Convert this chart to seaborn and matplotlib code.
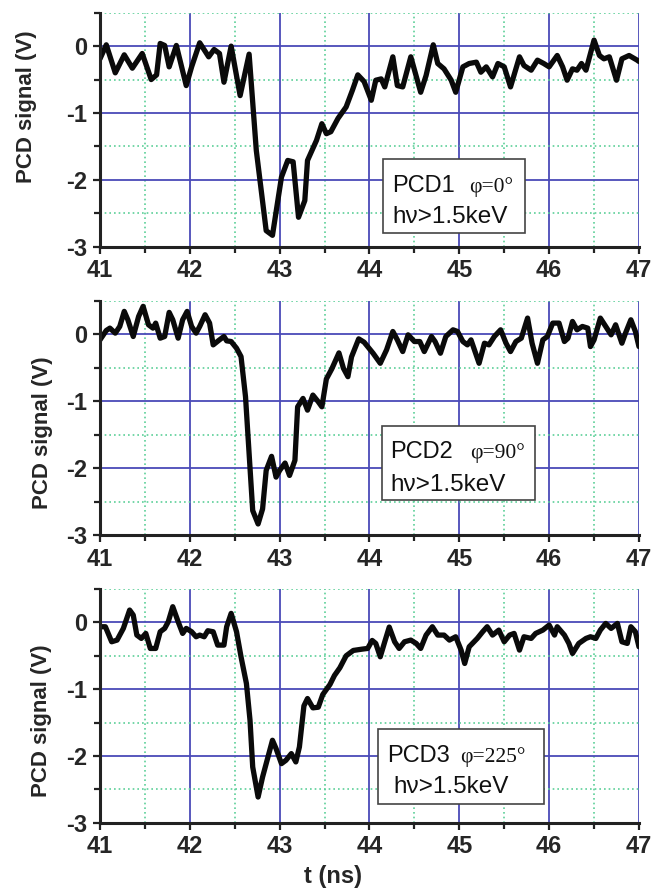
import matplotlib
matplotlib.use("Agg")
import matplotlib.pyplot as plt
import seaborn as sns
from matplotlib.ticker import MultipleLocator, FixedLocator
from matplotlib.patches import Rectangle

# ---------------- data ----------------
t1 = [41.00, 41.07, 41.17, 41.27, 41.36, 41.47, 41.57, 41.63, 41.67, 41.72, 41.77, 41.85,
      41.96, 42.02, 42.11, 42.21, 42.27, 42.33, 42.38, 42.46, 42.56, 42.66, 42.74, 42.85,
      42.92, 43.02, 43.09, 43.15, 43.21, 43.28, 43.31, 43.41, 43.47, 43.52, 43.57, 43.65,
      43.74, 43.81, 43.87, 43.94, 44.02, 44.07, 44.13, 44.17, 44.26, 44.31, 44.37, 44.46,
      44.57, 44.63, 44.71, 44.76, 44.83, 44.91, 44.96, 45.04, 45.11, 45.19, 45.24, 45.30,
      45.37, 45.43, 45.50, 45.57, 45.67, 45.72, 45.80, 45.87, 45.94, 46.00, 46.09, 46.15,
      46.20, 46.26, 46.31, 46.36, 46.41, 46.50, 46.56, 46.61, 46.67, 46.75, 46.81, 46.89,
      46.98, 47.00]
v1 = [-0.19, 0.02, -0.40, -0.13, -0.33, -0.11, -0.50, -0.43, 0.04, 0.01, -0.31, 0.01,
      -0.59, -0.31, 0.05, -0.16, -0.05, -0.11, -0.54, 0.00, -0.74, -0.12, -1.56, -2.76,
      -2.83, -1.96, -1.71, -1.73, -2.56, -2.31, -1.71, -1.41, -1.16, -1.31, -1.28, -1.08,
      -0.91, -0.66, -0.43, -0.53, -0.81, -0.51, -0.49, -0.61, -0.16, -0.59, -0.61, -0.16,
      -0.69, -0.44, 0.02, -0.26, -0.34, -0.51, -0.69, -0.31, -0.26, -0.24, -0.39, -0.31,
      -0.46, -0.26, -0.31, -0.61, -0.16, -0.29, -0.36, -0.21, -0.26, -0.31, -0.14, -0.31,
      -0.51, -0.34, -0.36, -0.26, -0.36, 0.09, -0.14, -0.19, -0.16, -0.51, -0.19, -0.14,
      -0.21, -0.23]

t2 = [41.00, 41.07, 41.11, 41.17, 41.22, 41.27, 41.31, 41.37, 41.43, 41.48, 41.54, 41.59,
      41.62, 41.67, 41.72, 41.77, 41.81, 41.87, 41.92, 41.97, 42.02, 42.07, 42.11, 42.17,
      42.22, 42.26, 42.33, 42.38, 42.41, 42.46, 42.52, 42.57, 42.62, 42.66, 42.70, 42.76,
      42.81, 42.85, 42.91, 42.96, 43.00, 43.06, 43.11, 43.17, 43.20, 43.26, 43.31, 43.37,
      43.43, 43.47, 43.52, 43.58, 43.66, 43.71, 43.76, 43.80, 43.88, 43.94, 44.04, 44.12,
      44.19, 44.26, 44.31, 44.37, 44.43, 44.50, 44.56, 44.61, 44.69, 44.73, 44.79, 44.85,
      44.93, 44.98, 45.04, 45.09, 45.13, 45.22, 45.28, 45.33, 45.39, 45.46, 45.52, 45.57,
      45.63, 45.69, 45.76, 45.81, 45.87, 45.93, 45.98, 46.04, 46.11, 46.17, 46.21, 46.26,
      46.31, 46.37, 46.43, 46.46, 46.50, 46.57, 46.63, 46.69, 46.74, 46.81, 46.85, 46.91,
      46.96, 47.00]
v2 = [-0.085, 0.055, 0.09, 0.015, 0.115, 0.34, 0.215, -0.035, 0.265, 0.415, 0.14, 0.09,
      0.165, -0.06, -0.035, 0.325, 0.215, -0.06, 0.215, 0.34, 0.115, 0.015, 0.115, 0.29,
      0.165, -0.16, -0.085, -0.035, -0.10, -0.11, -0.21, -0.335, -0.935, -1.785, -2.635, -2.835,
      -2.61, -2.035, -1.825, -2.135, -2.035, -1.925, -2.11, -1.885, -1.085, -0.96, -1.135, -0.91,
      -1.01, -1.085, -0.67, -0.52, -0.28, -0.51, -0.635, -0.34, -0.07, -0.12, -0.285, -0.435,
      -0.235, 0.04, -0.085, -0.26, -0.01, -0.11, -0.11, -0.26, -0.035, -0.11, -0.285, -0.035,
      0.065, 0.04, -0.11, -0.16, -0.085, -0.435, -0.135, -0.16, -0.035, 0.065, -0.135, -0.26,
      -0.11, -0.06, 0.24, -0.135, -0.435, -0.085, -0.035, 0.165, 0.165, -0.11, -0.06, 0.19,
      0.065, 0.115, 0.09, -0.185, -0.085, 0.24, 0.115, -0.01, 0.14, -0.135, 0.015, 0.215,
      0.04, -0.185]

t3 = [41.00, 41.06, 41.13, 41.19, 41.26, 41.33, 41.37, 41.41, 41.46, 41.51, 41.56, 41.62,
      41.67, 41.72, 41.76, 41.81, 41.87, 41.92, 41.96, 42.02, 42.07, 42.11, 42.16, 42.20,
      42.26, 42.31, 42.38, 42.41, 42.46, 42.52, 42.57, 42.63, 42.67, 42.70, 42.76, 42.81,
      42.87, 42.92, 42.96, 43.02, 43.07, 43.13, 43.18, 43.22, 43.27, 43.31, 43.37, 43.43,
      43.48, 43.56, 43.61, 43.67, 43.74, 43.82, 43.92, 43.98, 44.03, 44.07, 44.12, 44.17,
      44.22, 44.28, 44.33, 44.39, 44.46, 44.52, 44.57, 44.63, 44.70, 44.76, 44.83, 44.89,
      44.96, 45.02, 45.06, 45.11, 45.20, 45.26, 45.31, 45.37, 45.44, 45.50, 45.56, 45.61,
      45.67, 45.72, 45.80, 45.85, 45.93, 46.00, 46.06, 46.09, 46.17, 46.22, 46.26, 46.33,
      46.41, 46.46, 46.52, 46.57, 46.63, 46.69, 46.76, 46.81, 46.87, 46.91, 46.96, 47.00]
v3 = [-0.065, -0.065, -0.29, -0.265, -0.09, 0.185, 0.11, -0.19, -0.24, -0.165, -0.39, -0.39,
      -0.14, -0.09, 0.01, 0.235, 0.01, -0.165, -0.09, -0.14, -0.215, -0.19, -0.215, -0.125,
      -0.14, -0.34, -0.34, -0.065, 0.135, -0.14, -0.515, -0.915, -1.465, -2.165, -2.615, -2.315,
      -2.015, -1.765, -1.89, -2.115, -2.065, -1.965, -2.09, -1.865, -1.25, -1.14, -1.28, -1.27,
      -1.08, -0.93, -0.795, -0.68, -0.50, -0.42, -0.40, -0.39, -0.27, -0.315, -0.515, -0.29,
      -0.07, -0.29, -0.39, -0.29, -0.265, -0.315, -0.39, -0.19, -0.065, -0.19, -0.19, -0.265,
      -0.215, -0.415, -0.615, -0.365, -0.24, -0.14, -0.065, -0.19, -0.115, -0.29, -0.19, -0.165,
      -0.415, -0.215, -0.24, -0.165, -0.115, -0.04, -0.19, -0.065, -0.19, -0.315, -0.465, -0.315,
      -0.24, -0.215, -0.24, -0.115, -0.015, -0.09, -0.015, -0.29, -0.315, -0.065, -0.14, -0.365]

detectors = ["PCD1", "PCD2", "PCD3"]
angles = ["φ=0°", "φ=90°", "φ=225°"]
energy_label = "hν>1.5keV"
x_ticks = [41, 42, 43, 44, 45, 46, 47]
y_ticks = [-3, -2, -1, 0]

# ---------------- style ----------------
sns.set_style("white")
plt.rcParams['font.family'] = ['Liberation Sans', 'DejaVu Sans']
plt.rcParams['font.weight'] = 'bold'
plt.rcParams['axes.unicode_minus'] = False

fig = plt.figure(figsize=(6.64, 8.88), dpi=100)

ax_rects = [
    [0.1506, 0.7222, 0.8117, 0.2635],
    [0.1506, 0.3975, 0.8117, 0.2639],
    [0.1506, 0.0735, 0.8117, 0.2632],
]
boxes = [
    (0.5245, 0.0573, 0.789, 0.3735),
    (0.523, 0.1494, 0.8065, 0.4652),
    (0.5158, 0.080, 0.8232, 0.3997),
]
txt_pos = [
    (0.5417, 0.235, 0.684, 0.5417, 0.100),
    (0.5386, 0.3274, 0.687, 0.5386, 0.189),
    (0.5325, 0.261, 0.668, 0.545, 0.126),
]
ylabel_coords = [(-0.117, 0.598), (-0.087, 0.4375), (-0.089, 0.436)]

series = [(t1, v1), (t2, v2), (t3, v3)]

for i, (t, v) in enumerate(series):
    ax = fig.add_axes(ax_rects[i])
    sns.lineplot(x=t, y=v, ax=ax, color='#0a0a0a', lw=3.8, estimator=None, sort=False,
                 zorder=4, solid_joinstyle='round', solid_capstyle='round')
    ax.set_xlim(41, 47)
    ax.set_ylim(-3, 0.5)
    ax.xaxis.set_major_locator(FixedLocator(x_ticks))
    ax.xaxis.set_minor_locator(MultipleLocator(0.5))
    ax.yaxis.set_major_locator(FixedLocator(y_ticks))
    ax.yaxis.set_minor_locator(MultipleLocator(0.5))
    ax.set_axisbelow(True)
    ax.grid(which='major', color='#4a4ab8', lw=1.3, ls='-')
    ax.grid(which='minor', color='#5ccf98', lw=1.2, ls=(0, (1, 1.8)))
    for s in ['top', 'right']:
        ax.spines[s].set_visible(False)
    for s in ['left', 'bottom']:
        ax.spines[s].set_linewidth(2.2)
        ax.spines[s].set_color('#222222')
        ax.spines[s].set_zorder(5)
    ax.tick_params(which='both', direction='out', left=True, bottom=True,
                   width=1.6, color='#222222')
    ax.tick_params(which='major', length=5, labelsize=17, pad=4)
    ax.tick_params(which='minor', length=4)
    ax.set_xlabel('')
    ax.set_ylabel('PCD signal (V)', fontsize=16, fontweight='bold')
    ax.yaxis.set_label_coords(*ylabel_coords[i])

    bl, bb, br, bt = boxes[i]
    ax.add_patch(Rectangle((bl, bb), br - bl, bt - bb, transform=ax.transAxes,
                           facecolor='white', edgecolor='#444444', lw=1.2, zorder=6))
    nx, l1y, px, l2x, l2y = txt_pos[i]
    ax.text(nx, l1y, detectors[i], transform=ax.transAxes, fontsize=17,
            fontweight='normal', ha='left', va='baseline', zorder=7, color='#111111')
    ax.text(px, l1y, angles[i], transform=ax.transAxes, fontsize=15.5,
            fontweight='normal', ha='left', va='baseline', zorder=7, color='#111111',
            family=['Liberation Serif', 'DejaVu Serif'])
    ax.text(l2x, l2y, energy_label, transform=ax.transAxes, fontsize=17.5,
            fontweight='normal', ha='left', va='baseline', zorder=7, color='#111111')

fig.text(0.502, 0.0124, 't (ns)', ha='center', va='center', fontsize=17,
         fontweight='bold')

fig.savefig('out.png', dpi=100)
